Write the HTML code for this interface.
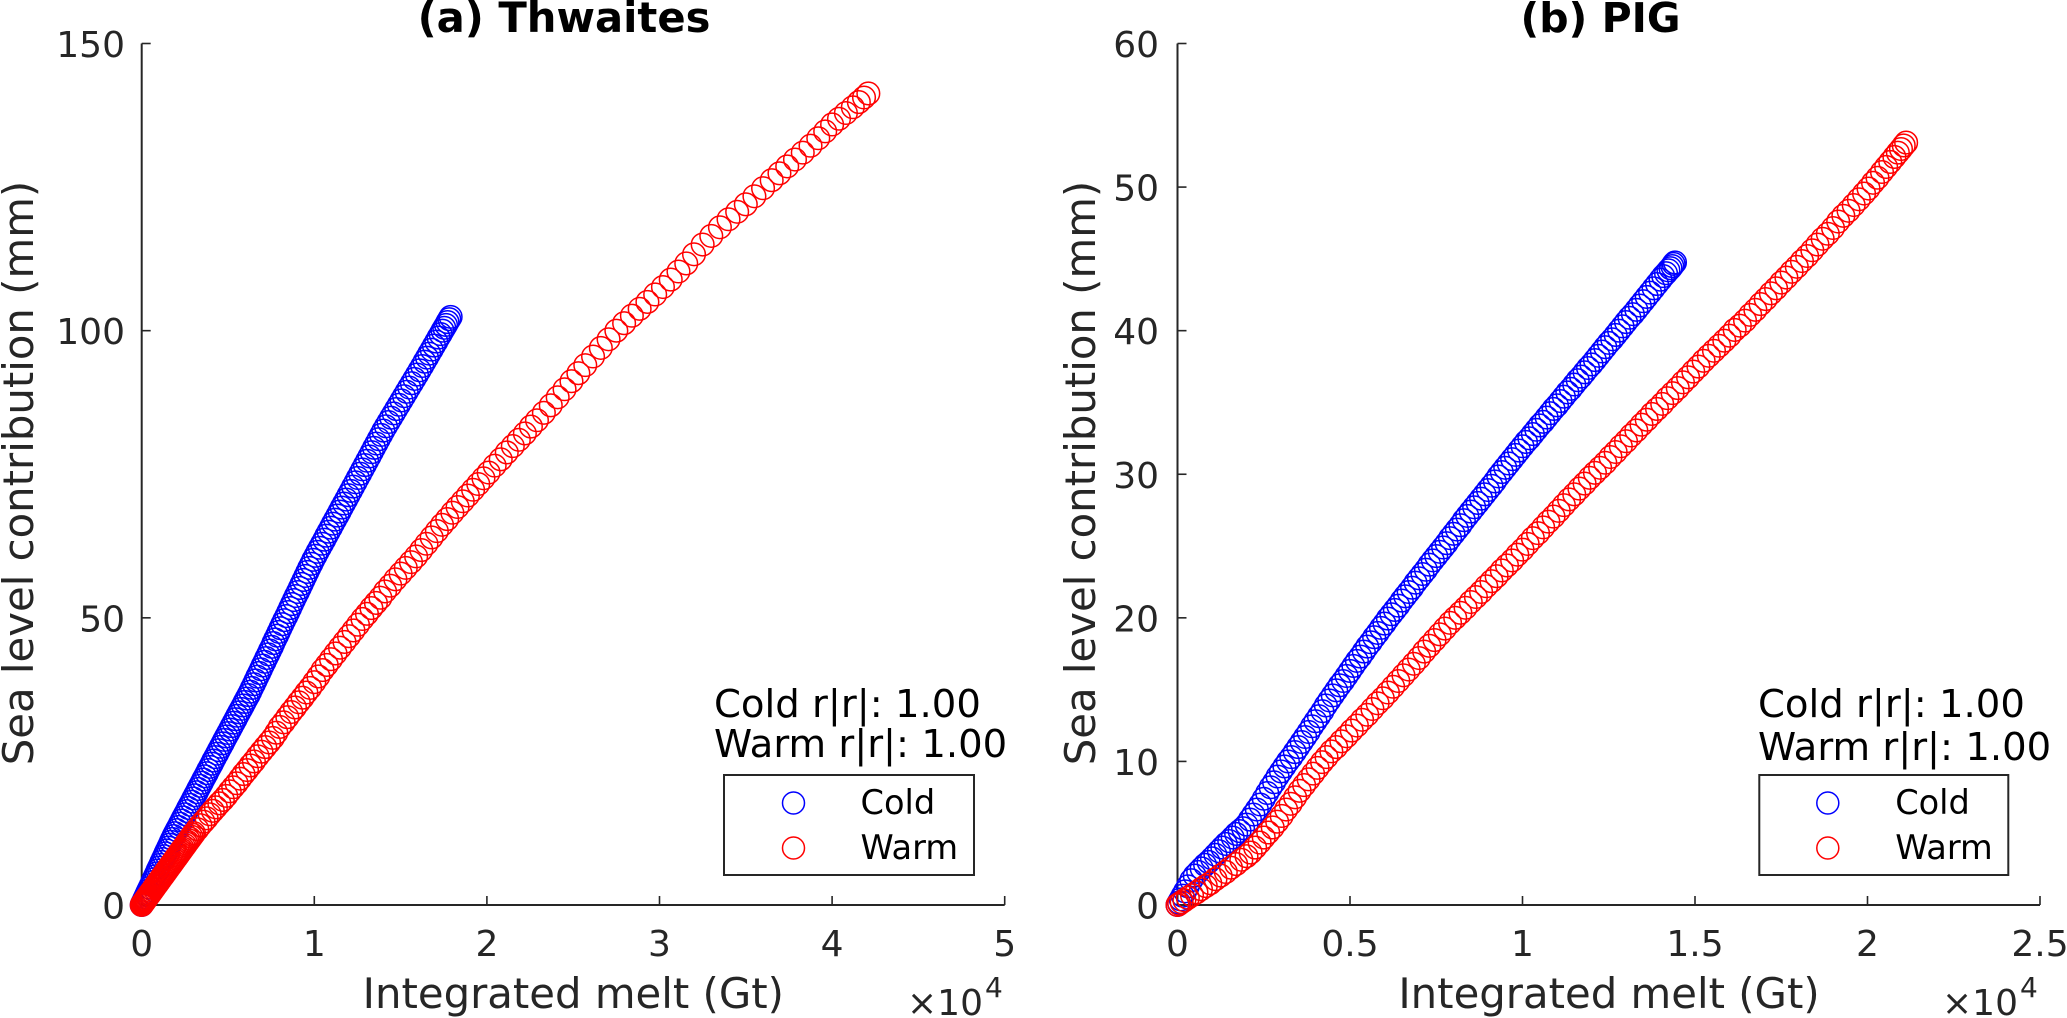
<!DOCTYPE html>
<html lang="en">
<head>
<meta charset="utf-8">
<title>Sea level contribution vs integrated melt</title>
<style>
  html, body { margin: 0; padding: 0; background: #fff; }
  svg { display: block; font-family: "DejaVu Sans", "Liberation Sans", sans-serif; }
</style>
</head>
<body>
<svg id="figure" xmlns="http://www.w3.org/2000/svg" width="2067" height="1018" viewBox="0 0 2067 1018">
  <rect x="0" y="0" width="2067" height="1018" fill="#ffffff"/>

  <g id="panel-a"></g>
  <g id="panel-b"></g>

  <text x="564" y="32" text-anchor="middle" font-size="41.7" font-weight="bold" fill="#000">(a) Thwaites</text>
  <text x="1600.5" y="32" text-anchor="middle" font-size="41" font-weight="bold" fill="#000">(b) PIG</text>

  <text transform="translate(33 473) rotate(-90)" text-anchor="middle" font-size="41.8" fill="#262626">Sea level contribution (mm)</text>
  <text transform="translate(1095 473) rotate(-90)" text-anchor="middle" font-size="41.8" fill="#262626">Sea level contribution (mm)</text>

  <text x="573.3" y="1008" text-anchor="middle" font-size="41.8" fill="#262626">Integrated melt (Gt)</text>
  <text x="1609" y="1008" text-anchor="middle" font-size="41.8" fill="#262626">Integrated melt (Gt)</text>

  <g fill="#262626">
    <text x="907" y="1015" font-size="36">×10</text>
    <text x="985" y="997" font-size="28">4</text>
  </g>
  <g fill="#262626">
    <text x="1942" y="1015" font-size="36">×10</text>
    <text x="2020" y="997" font-size="28">4</text>
  </g>

  <text x="714" y="717" font-size="38.6" fill="#000">Cold r|r|: 1.00</text>
  <text x="714" y="757" font-size="38.6" fill="#000">Warm r|r|: 1.00</text>
  <text x="1758" y="717" font-size="38.6" fill="#000">Cold r|r|: 1.00</text>
  <text x="1758" y="760" font-size="38.6" fill="#000">Warm r|r|: 1.00</text>

  <g>
    <rect x="724" y="775" width="250" height="100" fill="#fff" stroke="#262626" stroke-width="2"/>
    <g>
      <circle cx="793.5" cy="803" r="11" fill="none" stroke="#0000ff" stroke-width="1.5"/>
      <text x="860.5" y="814" font-size="33.6" fill="#000">Cold</text>
    </g>
    <g>
      <circle cx="793.5" cy="848" r="11" fill="none" stroke="#ff0000" stroke-width="1.5"/>
      <text x="860.5" y="859" font-size="33.6" fill="#000">Warm</text>
    </g>
  </g>
  <g>
    <rect x="1759.3" y="775" width="249" height="100" fill="#fff" stroke="#262626" stroke-width="2"/>
    <g>
      <circle cx="1827.8" cy="803" r="11" fill="none" stroke="#0000ff" stroke-width="1.5"/>
      <text x="1895.2" y="814" font-size="33.6" fill="#000">Cold</text>
    </g>
    <g>
      <circle cx="1827.8" cy="848" r="11" fill="none" stroke="#ff0000" stroke-width="1.5"/>
      <text x="1895.2" y="859" font-size="33.6" fill="#000">Warm</text>
    </g>
  </g>
</svg>

<script>
// Tick values (x in units of 10^4 Gt, y in mm)
const thwaitesXTicks = [0, 1, 2, 3, 4, 5];
const thwaitesYTicks = [0, 50, 100, 150];
const pigXTicks = [0, 0.5, 1, 1.5, 2, 2.5];
const pigYTicks = [0, 10, 20, 30, 40, 50, 60];

// (a) Thwaites, Cold
const thwaitesColdMelt = [
0,.002,.004,.007,.011,.015,.021,.026,.032,.038,.046,.054,.062,.069,.077,.085,.092,.1,.108,.115,.123,.131,.138,.146,.154,.162,.169,.177,.185,.193,
.203,.213,.222,.232,.241,.251,.261,.27,.28,.29,.299,.309,.319,.328,.338,.348,.357,.367,.377,.386,.396,.406,.415,
.426,.437,.447,.458,.469,.479,.49,.501,.512,.522,.533,.544,.554,.565,.576,.587,.597,.608,.619,.629,
.639,.65,.66,.67,.681,.691,.701,.712,.722,.733,.743,.754,.763,.773,.784,.794,.804,
.815,.826,.838,.849,.86,.871,.882,.893,.905,.916,.927,.938,.949,.96,.971,.983,.994,
1.007,1.019,1.032,1.045,1.058,1.07,1.083,1.096,1.108,1.121,1.134,1.147,1.159,1.172,1.185,
1.198,1.212,1.225,1.239,1.252,1.266,1.279,1.293,1.306,1.32,1.333,1.346,1.36,1.373,1.387,1.4,
1.415,1.43,1.445,1.46,1.475,1.49,1.505,1.52,1.535,1.55,1.565,1.58,1.595,1.61,1.625,
1.639,1.653,1.666,1.68,1.693,1.707,1.72,1.732,1.743,1.753,1.763,1.772,1.782,1.79];
const thwaitesColdSea = [
0,.1,.25,.45,.7,1,1.35,1.7,2.1,2.5,3,3.5,4,4.5,5,5.5,6,6.5,7,7.5,8,8.5,9,9.5,10,10.5,11,11.5,12,12.5,
13.05,13.6,14.15,14.7,15.25,15.8,16.35,16.9,17.45,18,18.55,19.1,19.65,20.2,20.75,21.3,21.85,22.4,22.95,23.5,24.05,24.6,25.15,
25.75,26.35,26.95,27.55,28.15,28.75,29.35,29.95,30.55,31.15,31.75,32.35,32.95,33.55,34.15,34.75,35.35,35.95,36.55,37.15,
37.8,38.45,39.1,39.75,40.4,41.05,41.7,42.35,43,43.65,44.3,44.95,45.6,46.25,46.9,47.55,48.2,
48.9,49.6,50.3,51,51.7,52.4,53.1,53.8,54.5,55.2,55.9,56.6,57.3,58,58.7,59.4,60.1,
60.8,61.5,62.2,62.9,63.6,64.3,65,65.7,66.4,67.1,67.8,68.5,69.2,69.9,70.6,
71.35,72.1,72.85,73.6,74.35,75.1,75.85,76.6,77.35,78.1,78.85,79.6,80.35,81.1,81.85,82.6,
83.35,84.1,84.85,85.6,86.35,87.1,87.85,88.6,89.35,90.1,90.85,91.6,92.35,93.1,93.85,
94.6,95.3,96,96.7,97.4,98.1,98.8,99.4,100,100.5,101,101.5,102,102.4];

// (a) Thwaites, Warm
const thwaitesWarmMelt = [
0,.003,.006,.009,.012,.016,.02,.024,.028,.033,.038,.043,.048,.053,.058,.064,.07,.076,.082,.088,.094,.1,
.106,.112,.118,.124,.13,.136,.142,.148,.154,.16,.166,.172,.178,.184,.19,.196,.202,.208,.214,.22,.226,.232,.238,
.245,.252,.259,.266,.273,.28,.288,.296,.303,
.322,.34,.358,.376,.394,.412,.43,.45,.47,.49,.51,.53,.55,.57,.59,.61,.63,.65,.672,.694,.716,.738,.76,.78,.80,
.822,.844,.866,.888,.91,.932,.954,.976,1.0,1.024,1.048,1.072,1.097,
1.123,1.149,1.175,1.201,1.227,1.253,1.279,1.305,1.331,1.357,1.383,1.41,
1.44,1.47,1.5,1.53,1.56,1.59,1.62,1.65,1.68,1.71,1.74,1.77,1.80,1.83,1.86,1.89,1.92,1.95,1.98,2.01,
2.045,2.08,2.115,2.15,2.185,2.22,2.255,2.29,2.33,2.37,2.41,2.45,2.49,2.53,2.57,
2.615,2.66,2.705,2.75,2.795,2.84,2.885,2.93,2.975,3.02,3.065,3.11,3.155,3.2,
3.25,3.3,3.35,3.4,3.45,3.5,3.55,3.6,3.65,3.695,3.74,3.785,3.83,3.875,3.92,3.96,4.0,4.04,4.08,4.12,4.155,4.185,4.21];
const thwaitesWarmSea = [
0,.12,.25,.37,.5,.66,.83,1,1.16,1.37,1.57,1.78,1.98,2.19,2.4,2.64,2.89,3.14,3.39,3.63,3.88,4.13,
4.38,4.63,4.87,5.12,5.37,5.62,5.86,6.11,6.36,6.61,6.86,7.1,7.35,7.6,7.85,8.09,8.34,8.59,8.84,9.09,9.33,9.58,9.83,
10.12,10.41,10.7,10.99,11.27,11.56,11.89,12.22,12.5,
13.2,13.9,14.5,15.1,15.8,16.4,17.0,17.7,18.3,19.0,19.8,20.5,21.2,22.0,22.8,23.5,24.3,25.0,25.9,26.7,27.5,28.3,29.1,30.0,31.0,
31.8,32.7,33.6,34.4,35.3,36.1,37.0,37.8,38.8,39.8,40.9,41.8,42.8,
43.8,44.8,45.8,46.8,47.8,48.8,49.8,50.7,51.7,52.6,53.5,54.6,
55.6,56.7,57.7,58.7,59.7,60.7,61.8,62.9,64,65.1,66.2,67.2,68.3,69.3,70.3,71.3,72.3,73.3,74.3,75.3,
76.5,77.6,78.8,79.9,81,82.1,83.3,84.4,85.7,87,88.4,89.8,91.2,92.6,94,
95.5,97,98.5,100,101.3,102.6,103.8,105,106.3,107.6,108.9,110.3,111.7,113.3,
115,116.5,118,119.4,120.7,122,123.4,124.8,126.2,127.4,128.6,129.8,131,132.2,133.5,134.7,135.9,136.9,137.9,138.9,139.8,140.6,141.3];

// (b) PIG, Cold
const pigColdMelt = [
0,.004,.009,.015,.022,.03,.04,.05,.06,.07,
.08,.09,.1,.11,.12,.13,.14,.15,.16,.17,
.18,.19,.2,.21,.22,.23,.24,.25,.26,.27,
.28,.29,.3,.31,.32,.33,.34,.35,.36,.37,
.38,.39,.4,.41,.42,.43,.44,.45,.46,.47,
.48,.49,.5,.51,.52,.53,.54,.55,.56,.57,
.58,.59,.6,.61,.62,.63,.64,.65,.66,.67,
.68,.69,.7,.71,.72,.73,.74,.75,.76,.77,
.78,.79,.8,.81,.82,.83,.84,.85,.86,.87,
.88,.89,.9,.91,.92,.93,.94,.95,.96,.97,
.98,.99,1.0,1.01,1.02,1.03,1.04,1.05,1.06,1.07,
1.08,1.09,1.1,1.11,1.12,1.13,1.14,1.15,1.16,1.17,
1.18,1.19,1.2,1.21,1.22,1.23,1.24,1.25,1.26,1.27,
1.28,1.29,1.3,1.31,1.32,1.33,1.34,1.35,1.36,1.37,
1.38,1.39,1.4,1.408,1.416,1.423,1.429,1.434,1.438,1.442];
const pigColdSea = [
0,.17,.39,.65,.95,1.3,1.73,2.05,2.3,2.55,
2.8,3.0,3.25,3.5,3.75,4.0,4.25,4.45,4.7,4.95,
5.15,5.35,5.6,5.95,6.3,6.65,7.0,7.4,7.8,8.2,
8.55,8.95,9.3,9.65,10,10.3,10.65,11,11.35,11.7,
12.05,12.45,12.8,13.15,13.5,13.9,14.25,14.6,14.95,15.3,
15.6,15.95,16.3,16.65,17,17.3,17.65,18,18.3,18.65,
18.95,19.3,19.6,19.95,20.25,20.55,20.85,21.2,21.5,21.8,
22.1,22.45,22.75,23.05,23.35,23.7,24,24.3,24.6,24.9,
25.2,25.55,25.85,26.15,26.45,26.8,27.1,27.4,27.7,28,
28.3,28.6,28.9,29.2,29.5,29.85,30.15,30.45,30.75,31.05,
31.35,31.65,31.95,32.25,32.5,32.8,33.1,33.4,33.65,33.95,
34.25,34.55,34.8,35.1,35.4,35.7,35.95,36.25,36.55,36.8,
37.1,37.4,37.65,37.95,38.25,38.55,38.85,39.15,39.4,39.7,
40,40.3,40.6,40.9,41.15,41.45,41.75,42.05,42.35,42.65,
42.95,43.25,43.55,43.8,44,44.2,44.35,44.5,44.65,44.75];

// (b) PIG, Warm
const pigWarmMelt = [
0,.005,.012,.02,.03,.042,.055,.068,.082,.095,
.11,.125,.14,.155,.17,.185,.2,.212,.225,.238,
.25,.263,.276,.289,.302,.315,.328,.341,.354,.367,
.38,.393,.406,.419,.432,.446,.46,.475,.49,.505,
.52,.535,.55,.565,.58,.595,.61,.625,.64,.655,
.67,.685,.7,.715,.73,.745,.76,.775,.79,.805,
.82,.835,.85,.865,.88,.895,.91,.925,.94,.955,
.97,.985,1.0,1.015,1.03,1.045,1.06,1.075,1.09,1.105,
1.12,1.135,1.15,1.165,1.18,1.195,1.21,1.225,1.24,1.255,
1.27,1.285,1.3,1.315,1.33,1.345,1.36,1.375,1.39,1.405,
1.42,1.435,1.45,1.465,1.48,1.495,1.51,1.525,1.54,1.555,
1.57,1.585,1.6,1.615,1.63,1.645,1.66,1.675,1.69,1.705,
1.72,1.735,1.75,1.765,1.78,1.795,1.81,1.825,1.84,1.855,
1.87,1.885,1.9,1.915,1.93,1.945,1.96,1.975,1.99,2.003,
2.016,2.029,2.042,2.054,2.066,2.078,2.088,2.097,2.105,2.112];
const pigWarmSea = [
0,.08,.2,.33,.5,.68,.88,1.1,1.32,1.52,
1.8,2.05,2.3,2.6,2.85,3.15,3.4,3.65,4.0,4.35,
4.7,5.05,5.4,5.8,6.2,6.65,7.05,7.5,7.95,8.35,
8.75,9.15,9.55,9.95,10.3,10.7,11.0,11.4,11.75,12.15,
12.5,12.9,13.25,13.65,14.05,14.4,14.8,15.2,15.6,16.0,
16.4,16.8,17.2,17.65,18.05,18.45,18.85,19.25,19.65,20.0,
20.35,20.7,21.1,21.45,21.8,22.2,22.55,22.9,23.3,23.65,
24,24.4,24.75,25.15,25.55,25.9,26.3,26.7,27.05,27.45,
27.85,28.25,28.6,29,29.35,29.75,30.1,30.45,30.8,31.2,
31.55,31.95,32.3,32.7,33.05,33.45,33.8,34.2,34.55,34.9,
35.3,35.65,36,36.4,36.75,37.15,37.5,37.9,38.25,38.6,
38.95,39.3,39.65,40.05,40.35,40.7,41.1,41.45,41.85,42.2,
42.6,42.95,43.35,43.7,44.1,44.45,44.85,45.2,45.6,46.0,
46.4,46.75,47.15,47.6,48,48.35,48.75,49.15,49.55,49.9,
50.3,50.65,51.05,51.4,51.75,52.1,52.4,52.65,52.9,53.1];

const SVG_NS = 'http://www.w3.org/2000/svg';
const AXIS_COLOR = '#262626';
const PLOT_TOP = 43.5;
const PLOT_BOTTOM = 905;

function linearScale(d0, d1, r0, r1) {
  return function (v) { return r0 + (v - d0) / (d1 - d0) * (r1 - r0); };
}

function addLine(parent, x1, y1, x2, y2, width) {
  const line = document.createElementNS(SVG_NS, 'line');
  line.setAttribute('x1', x1);
  line.setAttribute('y1', y1);
  line.setAttribute('x2', x2);
  line.setAttribute('y2', y2);
  line.setAttribute('stroke', AXIS_COLOR);
  line.setAttribute('stroke-width', width);
  parent.appendChild(line);
  return line;
}

function addLabel(parent, x, y, anchor, content) {
  const label = document.createElementNS(SVG_NS, 'text');
  label.setAttribute('x', x);
  label.setAttribute('y', y);
  label.setAttribute('text-anchor', anchor);
  label.setAttribute('font-size', '36');
  label.setAttribute('fill', AXIS_COLOR);
  label.textContent = content;
  parent.appendChild(label);
  return label;
}

function drawAxes(panel, xScale, yScale, xTicks, yTicks, labelRight, left, right) {
  const yAxis = addLine(panel, left, PLOT_TOP, left, PLOT_BOTTOM, 2);
  
  
  const xAxis = addLine(panel, left, PLOT_BOTTOM, right, PLOT_BOTTOM, 2);
  
  

  xTicks.forEach(function (t) {
    const px = xScale(t);
    const mark = addLine(panel, px, PLOT_BOTTOM, px, PLOT_BOTTOM - 9, 1.6);
    
    
    const label = addLabel(panel, px, 956, 'middle', String(t));
    
    
  });

  yTicks.forEach(function (t) {
    const py = yScale(t);
    const mark = addLine(panel, left, py, left + 9, py, 1.6);
    
    
    const label = addLabel(panel, labelRight, py + 13.5, 'end', String(t));
    
    
  });
}

function drawSeries(panel, xs, ys, xScale, yScale, color, seriesName) {
  const group = document.createElementNS(SVG_NS, 'g');
  
  
  group.setAttribute('fill', 'none');
  group.setAttribute('stroke', color);
  group.setAttribute('stroke-width', '1.5');
  xs.forEach(function (x, i) {
    const point = document.createElementNS(SVG_NS, 'circle');
    
    
    point.setAttribute('cx', xScale(x).toFixed(2));
    point.setAttribute('cy', yScale(ys[i]).toFixed(2));
    point.setAttribute('r', '11.3');
    group.appendChild(point);
  });
  panel.appendChild(group);
}

const panelA = document.getElementById('panel-a');
const aX = linearScale(0, 5, 141.7, 1004.7);
const aY = linearScale(0, 150, PLOT_BOTTOM, PLOT_TOP);
drawAxes(panelA, aX, aY, thwaitesXTicks, thwaitesYTicks, 125, 141.7, 1004.7);
drawSeries(panelA, thwaitesColdMelt, thwaitesColdSea, aX, aY, '#0000ff', 'series-cold-thwaites');
drawSeries(panelA, thwaitesWarmMelt, thwaitesWarmSea, aX, aY, '#ff0000', 'series-warm-thwaites');

const panelB = document.getElementById('panel-b');
const bX = linearScale(0, 2.5, 1177.5, 2040);
const bY = linearScale(0, 60, PLOT_BOTTOM, PLOT_TOP);
drawAxes(panelB, bX, bY, pigXTicks, pigYTicks, 1159, 1177.5, 2040);
drawSeries(panelB, pigColdMelt, pigColdSea, bX, bY, '#0000ff', 'series-cold-pig');
drawSeries(panelB, pigWarmMelt, pigWarmSea, bX, bY, '#ff0000', 'series-warm-pig');
</script>
</body>
</html>
